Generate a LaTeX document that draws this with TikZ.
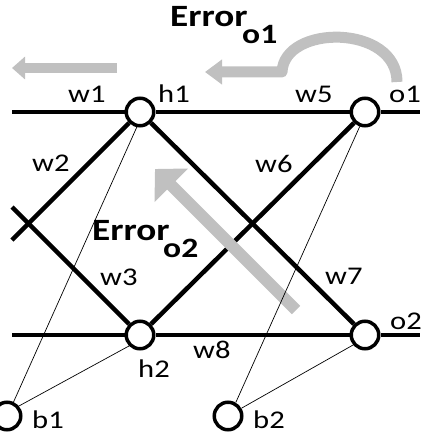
\documentclass[tikz,border=0pt]{standalone}
\usepackage{fontspec}
\setmainfont[FakeStretch=1.2]{Carlito}
\usetikzlibrary{arrows.meta}
\definecolor{arrowgray}{RGB}{192,192,192}
\begin{document}
\begin{tikzpicture}[x=1pt,y=-1pt,
  neuron/.style={circle,draw=black,line width=3.5pt,minimum size=27.5pt,inner sep=0pt,fill=white},
  wire/.style={line width=4pt},
  diag/.style={line width=4.5pt},
  bias/.style={line width=0.7pt},
  garrow/.style={draw=arrowgray,line cap=butt},
  lbl/.style={anchor=base west,inner sep=0pt,font=\fontsize{25.5}{25.5}\selectfont},
  errlbl/.style={anchor=base west,inner sep=0pt,font=\fontsize{31}{31}\selectfont\bfseries},
  sublbl/.style={anchor=base west,inner sep=0pt,font=\fontsize{28}{28}\selectfont\bfseries}]
\useasboundingbox (0,0) rectangle (422,435);

% neurons
\node[neuron] (h1) at (140,112) {};
\node[neuron] (o1) at (365,112) {};
\node[neuron] (h2) at (140,335) {};
\node[neuron] (o2) at (365,335) {};
\node[neuron] (b1) at (7,416) {};
\node[neuron] (b2) at (228,416) {};

% free ends
\coordinate (inT) at (12,112);
\coordinate (outT) at (420,112);
\coordinate (inB) at (12,335);
\coordinate (outB) at (420,335);
\coordinate (dl1) at (12,240);
\coordinate (dl2) at (12,207);

% thick connections
\draw[wire] (inT) -- (h1);
\draw[wire] (h1) -- (o1);
\draw[wire] (o1) -- (outT);
\draw[wire] (inB) -- (h2);
\draw[wire] (h2) -- (o2);
\draw[wire] (o2) -- (outB);
\draw[diag] (h1) -- (o2);
\draw[diag] (h2) -- (o1);
\draw[diag] (h1) -- (dl1);
\draw[diag] (h2) -- (dl2);

% gray error arrows
\coordinate (a1s) at (117,68);
\coordinate (a1e) at (12,68);
\draw[garrow,line width=10pt,-{Triangle[length=13pt,width=22pt]}] (a1s) -- (a1e);
\coordinate (a2s) at (397,82);
\coordinate (a2m) at (282,72);
\coordinate (a2e) at (205,72);
\draw[garrow,line width=11pt,line join=round,-{Triangle[length=17pt,width=24pt]}] (a2s) .. controls (397,24) and (284,24) .. (a2m) -- (a2e);
\coordinate (a3s) at (296,310);
\coordinate (a3e) at (155,169);
\draw[garrow,line width=12pt,-{Triangle[length=23pt,width=46pt]}] (a3s) -- (a3e);

% bias connections
\draw[bias] (b1.65) -- (h1.258);
\draw[bias] (b1.40) -- (h2.225);
\draw[bias] (b2.60) -- (o1.250);
\draw[bias] (b2.30) -- (o2.220);

% labels
\node[lbl] (lw1) at (68,103) {w1};
\node[lbl] (lh1) at (158,103) {h1};
\node[lbl] (lw5) at (295,103) {w5};
\node[lbl] (lo1) at (389,103) {o1};
\node[lbl] (lw2) at (32,172) {w2};
\node[lbl] (lw6) at (255,173) {w6};
\node[lbl] (lw3) at (100,285) {w3};
\node[lbl] (lw7) at (325,284) {w7};
\node[lbl] (lw8) at (193,358) {w8};
\node[lbl] (lh2) at (138,377) {h2};
\node[lbl] (lo2) at (390,329) {o2};
\node[lbl] (lb1) at (32,428) {b1};
\node[lbl] (lb2) at (253,428) {b2};
\node[errlbl] (e1) at (170,27) {Error};
\node[sublbl] (e1s) at (242,44) {o1};
\node[errlbl] (e2) at (92,240) {Error};
\node[sublbl] (e2s) at (163,257) {o2};
\end{tikzpicture}
\end{document}
